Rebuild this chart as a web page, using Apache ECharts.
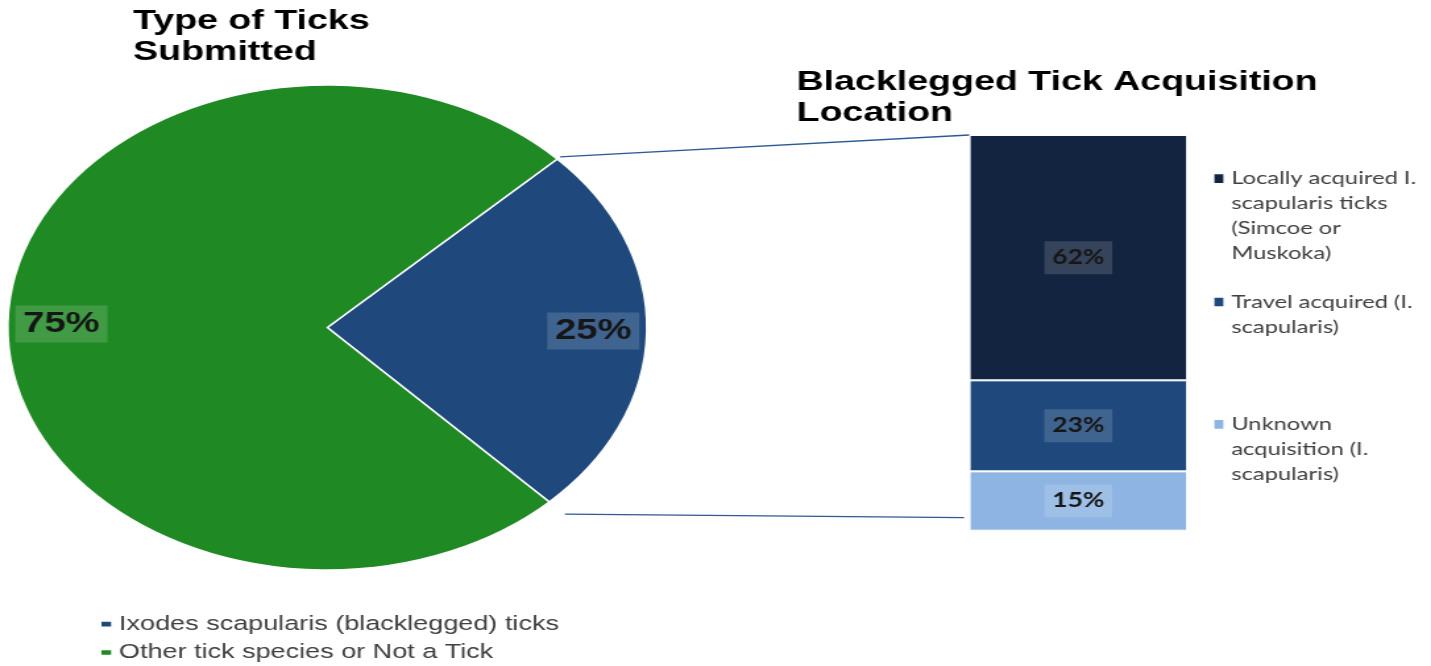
<!DOCTYPE html>
<html>
<head>
<meta charset="utf-8">
<script src="https://cdn.jsdelivr.net/npm/echarts@6/dist/echarts.min.js"></script>
<style>
  html, body { margin: 0; padding: 0; background: #ffffff; overflow: hidden; }
  #stage { width: 1431px; height: 666px; overflow: hidden; position: relative; }
  /* the whole figure is drawn narrow and widened horizontally */
  #chart { width: 1086px; height: 666px; transform: scaleX(1.3177); transform-origin: 0 0; }
</style>
</head>
<body>
<div id="stage"><div id="chart"></div></div>
<script>
// ---- data ----
const pieNames = ['Ixodes scapularis (blacklegged) ticks', 'Other tick species or Not a Tick'];
const pieValues = [25, 75];
const pieColors = ['#1f497d', '#1f8a24'];

const acqCategory = ['Blacklegged ticks'];
const acqNames = [
  'Locally acquired I. scapularis ticks (Simcoe or Muskoka)',
  'Travel acquired (I. scapularis)',
  'Unknown acquisition (I. scapularis)'
];
const acqValues = [62, 23, 15];
const acqColors = ['#12243f', '#1f497d', '#8db4e2'];
const acqLegendLines = [
  ['Locally acquired I.', 'scapularis ticks', '(Simcoe or', 'Muskoka)'],
  ['Travel acquired (I.', 'scapularis)'],
  ['Unknown', 'acquisition (I.', 'scapularis)']
];

// ---- layout ----
const PIE_CX = 248.4, PIE_CY = 327.5, PIE_R = 242.5, PIE_START = 44;
const BAR_LEFT = 735.6, BAR_TOP = 135, BAR_W = 165.5, BAR_H = 395.7;
const ACQ_LEGEND_LEFT = 919.6;
const ACQ_LEGEND_Y = [178.6, 302, 424.3];
const ACQ_LH = 25;

const chart = echarts.init(document.getElementById('chart'));

const labelBox = 'rgba(255,255,255,0.15)';

// one legend per acquisition entry; leading blank lines keep the marker
// level with the first text line (legend text is centred on its marker)
const acqLegends = acqNames.map(function (name, i) {
  const n = acqLegendLines[i].length;
  const padLines = new Array(n - 1).fill('');
  return {
    orient: 'vertical',
    left: ACQ_LEGEND_LEFT,
    top: ACQ_LEGEND_Y[i] - (2 * n - 1) * ACQ_LH / 2,
    padding: 0,
    itemWidth: 8.8,
    itemHeight: 10.7,
    icon: 'rect',
    selectedMode: false,
    data: [{ name: name, itemStyle: { color: acqColors[i] } }],
    formatter: function () { return padLines.concat(acqLegendLines[i]).join('\n'); },
    textStyle: {
      fontFamily: 'Lato',
      fontSize: 18,
      color: '#404040',
      lineHeight: ACQ_LH
    }
  };
});

const barSeries = [];
for (let i = acqNames.length - 1; i >= 0; i--) {
  barSeries.push({
    type: 'bar',
    name: acqNames[i],
    stack: 'acq',
    barWidth: '100%',
    data: [acqValues[i]],
    itemStyle: { color: acqColors[i], borderColor: '#ffffff', borderWidth: 1 },
    label: {
      show: true,
      position: 'inside',
      formatter: '{c}%',
      fontFamily: 'Lato',
      fontWeight: 'bold',
      fontSize: 20,
      lineHeight: 20,
      color: '#161616',
      backgroundColor: labelBox,
      padding: [6.5, 6]
    },
    emphasis: { disabled: true },
    silent: true
  });
}

const pieData = pieNames.map(function (name, i) {
  return { name: name, value: pieValues[i], itemStyle: { color: pieColors[i] } };
});

chart.setOption({
  animation: false,
  backgroundColor: '#ffffff',
  title: [
    {
      text: 'Type of Ticks\nSubmitted',
      left: 101, top: 6, padding: 0,
      textStyle: { fontFamily: 'Liberation Sans', fontWeight: 'bold', fontSize: 28.5, lineHeight: 31, color: '#000000' }
    },
    {
      text: 'Blacklegged Tick Acquisition\nLocation',
      left: 604.5, top: 67, padding: 0,
      textStyle: { fontFamily: 'Liberation Sans', fontWeight: 'bold', fontSize: 28.5, lineHeight: 31, color: '#000000' }
    }
  ],
  legend: [
    {
      orient: 'vertical',
      left: 75,
      top: 613.7,
      padding: 0,
      itemGap: 7.3,
      itemWidth: 9.3,
      itemHeight: 6.7,
      icon: 'rect',
      selectedMode: false,
      data: pieNames.map(function (name, i) { return { name: name, itemStyle: { color: pieColors[i] } }; }),
      textStyle: { fontFamily: 'Liberation Sans', fontSize: 20.5, lineHeight: 21, color: '#404040' }
    }
  ].concat(acqLegends),
  grid: { left: BAR_LEFT, top: BAR_TOP, width: BAR_W, height: BAR_H, containLabel: false },
  xAxis: { type: 'category', data: acqCategory, show: false },
  yAxis: { type: 'value', min: 0, max: 100, show: false },
  series: [
    {
      type: 'pie',
      name: 'Type of Ticks Submitted',
      center: [PIE_CX, PIE_CY],
      radius: PIE_R,
      startAngle: PIE_START,
      clockwise: true,
      data: pieData,
      label: { show: false },
      labelLine: { show: false },
      itemStyle: { borderColor: '#ffffff', borderWidth: 1.5 },
      emphasis: { disabled: true },
      silent: true
    },
    {
      // transparent ring that places the percentage labels near the rim
      type: 'pie',
      name: 'labels',
      center: [PIE_CX, PIE_CY],
      radius: [PIE_R * 0.64, PIE_R],
      startAngle: PIE_START,
      clockwise: true,
      data: pieNames.map(function (name, i) { return { name: name, value: pieValues[i] }; }),
      itemStyle: { color: 'rgba(0,0,0,0)' },
      label: {
        show: true,
        position: 'inside',
        formatter: '{c}%',
        fontFamily: 'Liberation Sans',
        fontWeight: 'bold',
        fontSize: 29,
        lineHeight: 29,
        color: '#161616',
        backgroundColor: labelBox,
        padding: [4, 6]
      },
      labelLine: { show: false },
      emphasis: { disabled: true },
      silent: true
    }
  ].concat(barSeries)
});

// connector lines from the blacklegged slice to the breakdown bar
const total = pieValues.reduce(function (a, b) { return a + b; }, 0);
const toRad = Math.PI / 180;
const aStart = PIE_START * toRad;
const aEnd = (PIE_START - pieValues[0] / total * 360) * toRad;
const yTop = chart.convertToPixel({ yAxisIndex: 0 }, 100);
const yBottom = chart.convertToPixel({ yAxisIndex: 0 }, 0);
const lineStyle = { stroke: '#2e5a94', lineWidth: 1.3 };

chart.setOption({
  graphic: [
    {
      type: 'line',
      silent: true,
      shape: {
        x1: PIE_CX + (PIE_R + 3) * Math.cos(aStart),
        y1: PIE_CY - (PIE_R + 3) * Math.sin(aStart),
        x2: BAR_LEFT,
        y2: yTop
      },
      style: lineStyle
    },
    {
      type: 'line',
      silent: true,
      shape: {
        x1: PIE_CX + (PIE_R + 17) * Math.cos(aEnd),
        y1: PIE_CY - (PIE_R + 17) * Math.sin(aEnd),
        x2: BAR_LEFT - 4,
        y2: yBottom - 13
      },
      style: lineStyle
    }
  ]
});
</script>
</body>
</html>
